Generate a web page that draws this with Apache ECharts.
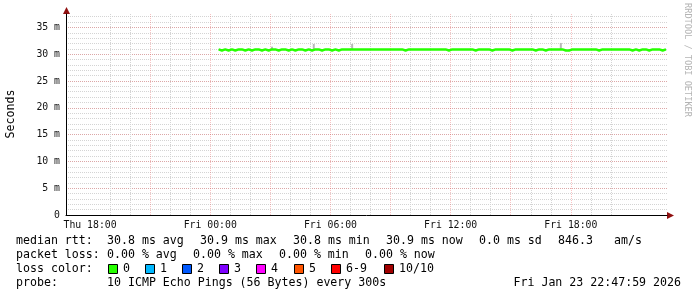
<!DOCTYPE html>
<html><head><meta charset="utf-8">
<script src="https://cdn.jsdelivr.net/npm/echarts@6/dist/echarts.min.js"></script>
<style>html,body{margin:0;padding:0;background:#fff}#c{width:697px;height:297px}</style>
</head><body><div id="c"></div>
<script>
// ---- data (x values are hours since Thu 00:00) ----
const xMin = 16 + 47/60 + 59/3600;      // Thu 16:47:59
const xMax = xMin + 30;                 // Fri 22:47:59
const xLabelHours = [18, 24, 30, 36, 42];
const minorHours = [17,19,20,22,23,25,26,28,29,31,32,34,35,37,38,40,41,43,44,46];
const majorHours = [18,21,24,27,30,33,36,39,42,45];
const yMax = 37.5;
const firstSample = 24 + 25/60;         // Fri 00:25
const sampleStep = 5/60;                // 300 s
const medianRtt = [
30.9,30.7,30.7,30.9,30.9,30.7,30.9,30.9,30.7,30.7,30.9,30.9,
30.9,30.9,30.7,30.7,30.7,30.9,30.9,30.7,30.9,30.9,30.7,30.9,
30.7,30.7,30.7,30.9,30.9,30.7,30.9,30.9,30.7,30.9,30.9,30.7,
30.9,30.9,30.7,30.9,30.9,30.7,30.7,30.9,30.9,30.7,30.9,30.9,
30.7,30.9,30.9,30.7,30.9,30.9,30.7,30.7,30.9,30.9,30.7,30.9,
30.9,30.7,30.9,30.9,30.7,30.9,30.9,30.7,30.9,30.9,30.9,30.7,
30.9,30.9,30.7,30.9,30.9,30.9,30.7,30.9,30.9,30.9,30.9,30.9,
30.9,30.9,30.9,30.9,30.9,30.9,30.9,30.9,30.9,30.9,30.9,30.9,
30.9,30.9,30.9,30.9,30.9,30.9,30.9,30.9,30.9,30.9,30.9,30.9,
30.9,30.9,30.9,30.7,30.9,30.9,30.9,30.9,30.9,30.9,30.9,30.9,
30.9,30.9,30.9,30.9,30.9,30.9,30.9,30.9,30.9,30.9,30.9,30.9,
30.9,30.9,30.9,30.9,30.9,30.7,30.7,30.9,30.9,30.9,30.9,30.9,
30.9,30.9,30.9,30.9,30.7,30.9,30.9,30.9,30.9,30.7,30.7,30.9,
30.9,30.9,30.9,30.9,30.9,30.9,30.9,30.7,30.7,30.9,30.9,30.9,
30.9,30.9,30.7,30.9,30.9,30.9,30.9,30.7,30.7,30.9,30.9,30.9,
30.9,30.9,30.9,30.9,30.7,30.9,30.9,30.9,30.9,30.7,30.9,30.9,
30.9,30.9,30.9,30.7,30.9,30.9,30.9,30.9,30.9,30.9,30.9,30.9,
30.9,30.9,30.9,30.7,30.7,30.7,30.9,30.9,30.9,30.9,30.9,30.9,
30.7,30.9,30.9,30.9,30.9,30.9,30.7,30.9,30.9,30.9,30.9,30.7,
30.9,30.9,30.9,30.9,30.9,30.9,30.9,30.9,30.7,30.9,30.9,30.9,
30.9,30.9,30.9,30.9,30.9,30.9,30.7,30.7,30.9,30.9,30.9,30.7,
30.9,30.9,30.9,30.9,30.7,30.7,30.7,30.9,30.9,30.9,30.9,30.9,
30.9,30.7,30.7,30.9,30.9
];
const smokeTimes = [27 + 5/60, 29 + 10/60, 31 + 5/60, 41 + 30/60];
const smokeLow  = [30.8, 30.8, 30.8, 30.8];
const smokeHigh = [31.4, 31.9, 31.9, 32.1];

const rttTitle = 'median rtt:';
const rttStats = ['30.8 ms avg','30.9 ms max','30.8 ms min','30.9 ms now','0.0 ms sd','846.3','am/s'];
const lossTitle = 'packet loss:';
const lossStats = ['0.00 % avg','0.00 % max','0.00 % min','0.00 % now'];
const lossColorTitle = 'loss color:';
const lossLabels = ['0','1','2','3','4','5','6-9','10/10'];
const probeTitle = 'probe:';
const probeText = '10 ICMP Echo Pings (56 Bytes) every 300s';
const stampText = 'Fri Jan 23 22:47:59 2026';
const yTitle = 'Seconds';
const watermark = 'RRDTOOL / TOBI OETIKER';

// ---- styles / layout ----
const lossColors = ['#26ff00','#00b8ff','#0059ff','#7e00ff','#ff00ff','#ff5500','#ff0000','#a00000'];
const rttX = [107,200,293,386,479,558,614];
const lossX = [107,193,279,365];
const boxX = [108,145,182,219,256,294,331,384];
const MONO = '"DejaVu Sans Mono", monospace';
const LEG_FONT = '11.6px ' + MONO;

const times = medianRtt.map((v, i) => firstSample + i * sampleStep);
const lineData = medianRtt.map((v, i) => [times[i], v]);
const smokeData = smokeTimes.map((t, i) => [t, smokeLow[i], smokeHigh[i]]);

const grayGrid = {show: true, showMinLine: false, showMaxLine: false,
  lineStyle: {color: '#d4d4d4', width: 1, type: [1, 1]}};
const redGrid = {show: true, showMinLine: false, showMaxLine: false,
  lineStyle: {color: 'rgba(235,90,90,0.36)', width: 1, type: [1, 1]}};

function hourLabel(h) {
  const day = h < 24 ? 'Thu' : 'Fri';
  const hh = Math.round(h % 24);
  return day + ' ' + String(hh).padStart(2, '0') + ':00';
}

const graphics = [];
function txt(x, y, s, extra) {
  graphics.push(Object.assign({type: 'text', x: x, y: y, silent: true,
    style: {text: s, font: LEG_FONT, fill: '#000', verticalAlign: 'middle', align: 'left'}}, extra || {}));
}
txt(16, 241, rttTitle);
rttStats.forEach((s, i) => txt(rttX[i], 241, s));
txt(16, 255, lossTitle);
lossStats.forEach((s, i) => txt(lossX[i], 255, s));
txt(16, 269, lossColorTitle);
lossLabels.forEach((s, i) => {
  graphics.push({type: 'rect', silent: true, shape: {x: boxX[i] + 0.5, y: 264.5, width: 9, height: 9},
    style: {fill: lossColors[i], stroke: '#000', lineWidth: 1}});
  txt(boxX[i] + 15, 269, s);
});
txt(16, 283, probeTitle);
txt(107, 283, probeText);
graphics.push({type: 'text', x: 681, y: 283, silent: true,
  style: {text: stampText, font: LEG_FONT, fill: '#000', verticalAlign: 'middle', align: 'right'}});
graphics.push({type: 'text', x: 11, y: 114, rotation: Math.PI / 2, silent: true,
  style: {text: yTitle, font: '11.6px ' + MONO, fill: '#000', align: 'center', verticalAlign: 'middle'}});
graphics.push({type: 'text', x: 687, y: 60, rotation: -Math.PI / 2, silent: true,
  style: {text: watermark, font: '8.6px ' + MONO, fill: '#b4b4b4', align: 'center', verticalAlign: 'middle'}});
// axis arrows
graphics.push({type: 'polygon', silent: true, shape: {points: [[66.5, 7], [63, 14], [70, 14]]},
  style: {fill: '#901010'}});
graphics.push({type: 'polygon', silent: true, shape: {points: [[674, 215.5], [667, 212], [667, 219]]},
  style: {fill: '#901010'}});

const chart = echarts.init(document.getElementById('c'), null, {renderer: 'canvas'});
chart.setOption({
  animation: false,
  backgroundColor: '#fff',
  grid: {left: 66, right: 30, top: 14, bottom: 82, containLabel: false},
  xAxis: [
    {type: 'value', min: xMin, max: xMax, position: 'bottom',
      axisLine: {show: true, onZero: false, lineStyle: {color: '#000', width: 1}},
      axisTick: {show: false, customValues: minorHours},
      axisLabel: {show: false},
      splitLine: grayGrid},
    {type: 'value', min: xMin, max: xMax, position: 'bottom',
      axisLine: {show: false},
      axisTick: {show: false, customValues: majorHours},
      axisLabel: {show: true, customValues: xLabelHours, formatter: hourLabel, margin: 5,
        color: '#111', fontFamily: MONO, fontSize: 9.8},
      splitLine: redGrid}
  ],
  yAxis: [
    {type: 'value', min: 0, max: yMax, interval: 1, position: 'left',
      axisLine: {show: true, lineStyle: {color: '#000', width: 1}},
      axisTick: {show: false}, axisLabel: {show: false},
      splitLine: grayGrid},
    {type: 'value', min: 0, max: yMax, interval: 5, position: 'left',
      axisLine: {show: false}, axisTick: {show: false},
      axisLabel: {show: true, showMaxLabel: false, margin: 6, color: '#111', fontFamily: MONO, fontSize: 9.8,
        formatter: v => v === 0 ? '0' : (v % 5 === 0 ? v + ' m' : '')},
      splitLine: redGrid}
  ],
  series: [
    {type: 'custom', xAxisIndex: 0, yAxisIndex: 0, data: smokeData, silent: true, z: 2,
      renderItem: function (params, api) {
        const lo = api.coord([api.value(0), api.value(1)]);
        const hi = api.coord([api.value(0), api.value(2)]);
        return {type: 'rect', shape: {x: lo[0] - 1, y: hi[1], width: 2, height: lo[1] - hi[1]},
          style: {fill: '#b8b8b8'}};
      }},
    {type: 'line', xAxisIndex: 0, yAxisIndex: 0, data: lineData, step: 'end', showSymbol: false,
      lineStyle: {color: lossColors[0], width: 2.5}, silent: true, z: 3}
  ],
  graphic: graphics
});
</script></body></html>
